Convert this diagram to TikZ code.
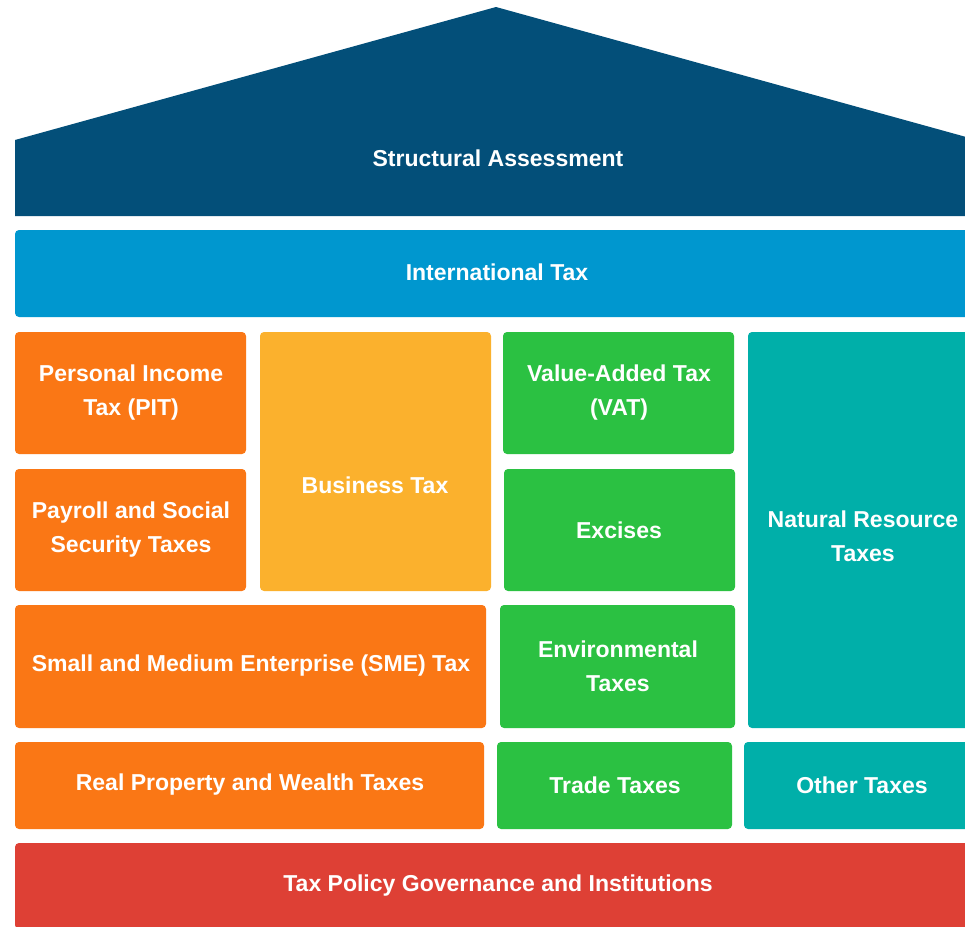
\documentclass[tikz,border=0pt]{standalone}
\usepackage{fontspec}
\setmainfont{Liberation Sans}
\definecolor{roofblue}{HTML}{034F79}
\definecolor{intblue}{HTML}{0097CF}
\definecolor{taxorange}{HTML}{FA7715}
\definecolor{taxyellow}{HTML}{FBB12D}
\definecolor{taxgreen}{HTML}{2BC142}
\definecolor{taxteal}{HTML}{00AFA9}
\definecolor{taxred}{HTML}{DE4035}
\begin{document}
\begin{tikzpicture}[x=0.02cm, y=-0.02cm,
		tile/.style={rounded corners=2.3pt},
		lbl/.style={text=white, align=center, font=\bfseries\fontsize{13.1}{19.4}\selectfont}]
			\clip (0,0) rectangle (965,927);
			\fill[white] (0,0) rectangle (965,927);
			
			% roof and top bars
			\fill[roofblue] (15,140) -- (496,7) -- (977,140) -- (977,216) -- (15,216) -- cycle;
			\node[lbl] (struct) at (498,158) {Structural Assessment};
			\fill[tile, intblue] (15,230) rectangle (977,317);
			\node[lbl] (intl) at (497,272) {International Tax};
			
			% left columns
			\fill[tile, taxorange] (15,332) rectangle (246,454);
			\fill[tile, taxorange] (15,469) rectangle (246,591);
			\fill[tile, taxyellow] (260,332) rectangle (491,591);
			\node[lbl] (pit) at (131,393) {Personal Income\\Tax (PIT)};
			\node[lbl] (payroll) at (131,530) {Payroll and Social\\Security Taxes};
			\node[lbl] (business) at (375,485) {Business Tax};
			
			% right columns
			\fill[tile, taxgreen] (503,332) rectangle (734,454);
			\fill[tile, taxgreen] (504,469) rectangle (735,591);
			\fill[tile, taxteal] (748,332) rectangle (977,728);
			\node[lbl] (vat) at (619,393) {Value-Added Tax\\(VAT)};
			\node[lbl] (excises) at (619,530) {Excises};
			\node[lbl] (natural) at (863,536) {Natural Resource\\Taxes};
			
			\fill[tile, taxorange] (15,605) rectangle (486,728);
			\fill[tile, taxgreen] (500,605) rectangle (735,728);
			\node[lbl] (sme) at (251,666) {Small and Medium Enterprise (SME) Tax};
			\node[lbl] (env) at (618,666) {Environmental\\Taxes};
			
			\fill[tile, taxorange] (15,742) rectangle (484,829);
			\fill[tile, taxgreen] (497,742) rectangle (732,829);
			\fill[tile, taxteal] (744,742) rectangle (977,829);
			\node[lbl] (property) at (250,785) {Real Property and Wealth Taxes};
			\node[lbl] (trade) at (615,785) {Trade Taxes};
			\node[lbl] (other) at (862,785) {Other Taxes};
			
			% base
			\fill[tile, taxred] (15,843) rectangle (977,929);
			\node[lbl] (gov) at (498,886) {Tax Policy Governance and Institutions};
			
		\end{tikzpicture}
\end{document}
